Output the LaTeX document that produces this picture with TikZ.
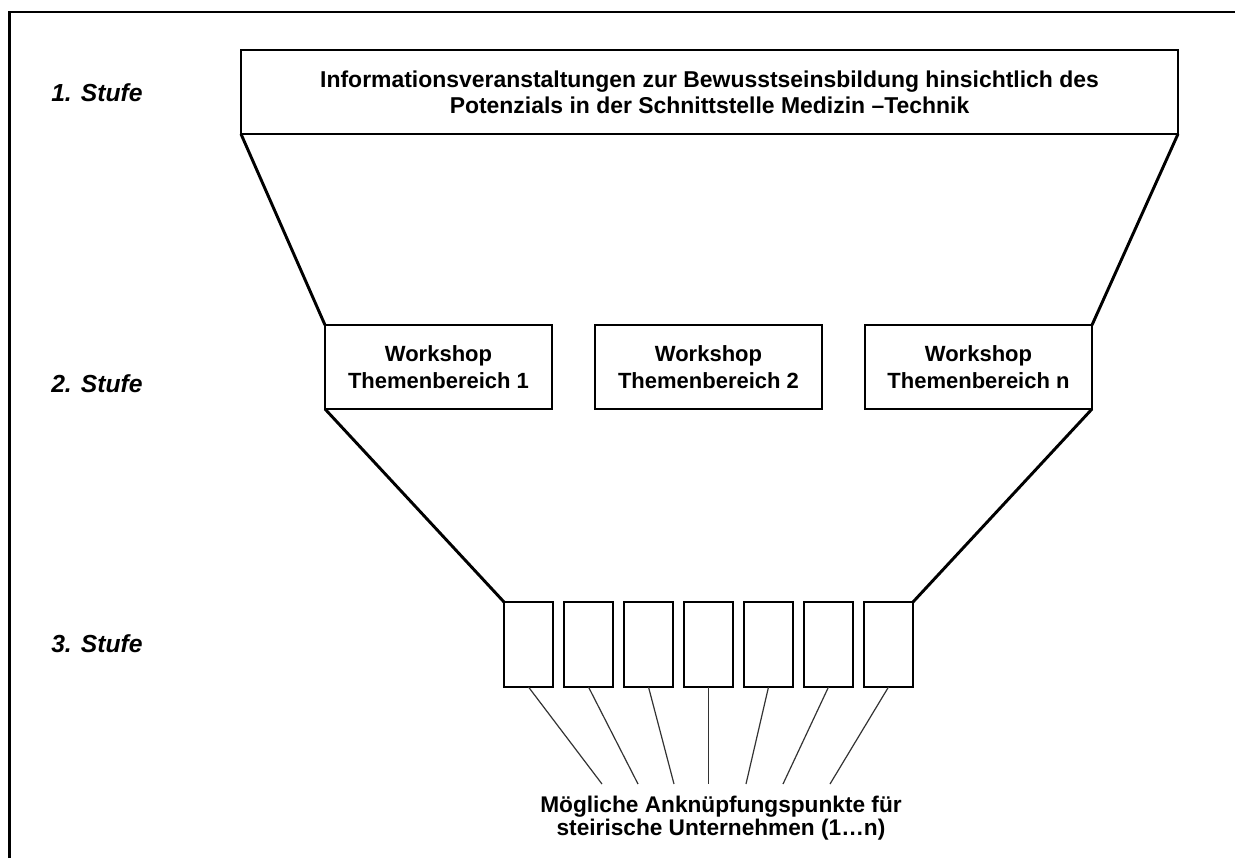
\documentclass[tikz,border=0pt]{standalone}
\usepackage{fontspec}
\setmainfont{Liberation Sans}
\begin{document}
\begin{tikzpicture}[x=0.75pt,y=-0.75pt,
  frameline/.style={line width=2pt},
  funnel/.style={line width=2.2pt},
  link/.style={line width=0.9pt, draw=black!80},
  boxbase/.style={draw, line width=2.2pt, rectangle, inner sep=0pt, outer sep=0pt, align=center},
  topbox/.style={boxbase, minimum width=702.75pt, minimum height=63pt,
    font=\bfseries\fontsize{17.2}{19.5}\selectfont},
  wsbox/.style={boxbase, minimum width=170.25pt, minimum height=63pt,
    font=\bfseries\fontsize{16.5}{20.25}\selectfont},
  slot/.style={boxbase, minimum width=36.75pt, minimum height=63.75pt},
  stage/.style={anchor=west, inner sep=0pt, font=\bfseries\itshape\fontsize{18.5}{20}\selectfont},
  note/.style={align=center, inner sep=0pt, font=\bfseries\fontsize{17}{17.25}\selectfont}
]
\useasboundingbox (0,0) rectangle (1235,858);

% outer frame, open to the right and bottom
\coordinate (fbl) at (9.5,858);
\coordinate (ftl) at (9.5,12);
\coordinate (ftr) at (1235,12);
\draw[frameline] (fbl) -- (ftl) -- (ftr);

% stage labels
\node[stage] (s1) at (51,93) {1. Stufe};
\node[stage] (s2) at (51,384) {2. Stufe};
\node[stage] (s3) at (51,644) {3. Stufe};

% stage 1
\node[topbox] (info) at (709.5,92)
  {Informationsveranstaltungen zur Bewusstseinsbildung hinsichtlich des\\
   Potenzials in der Schnittstelle Medizin --Technik};

% stage 2
\node[wsbox] (ws1) at (438.5,367) {Workshop\\Themenbereich 1};
\node[wsbox] (ws2) at (708.5,367) {Workshop\\Themenbereich 2};
\node[wsbox] (ws3) at (978.5,367) {Workshop\\Themenbereich n};

% stage 3
\foreach \k in {1,...,7}
  \node[slot] (b\k) at ({528.5+60*(\k-1)},644.5) {};

% funnel outline
\draw[funnel] (info.south west) -- (ws1.north west);
\draw[funnel] (info.south east) -- (ws3.north east);
\draw[funnel] (ws1.south west) -- (b1.north west);
\draw[funnel] (ws3.south east) -- (b7.north east);

% caption and its links
\node[note] (cap) at (721,818)
  {Mögliche Anknüpfungspunkte für\\steirische Unternehmen (1\dots n)};
\coordinate (e1) at (602,784);
\coordinate (e2) at (638,784);
\coordinate (e3) at (674,784);
\coordinate (e4) at (708.5,784);
\coordinate (e5) at (746,784);
\coordinate (e6) at (783,784);
\coordinate (e7) at (830,784);
\foreach \k in {1,...,7}
  \draw[link] (b\k.south) -- (e\k);
\end{tikzpicture}
\end{document}
